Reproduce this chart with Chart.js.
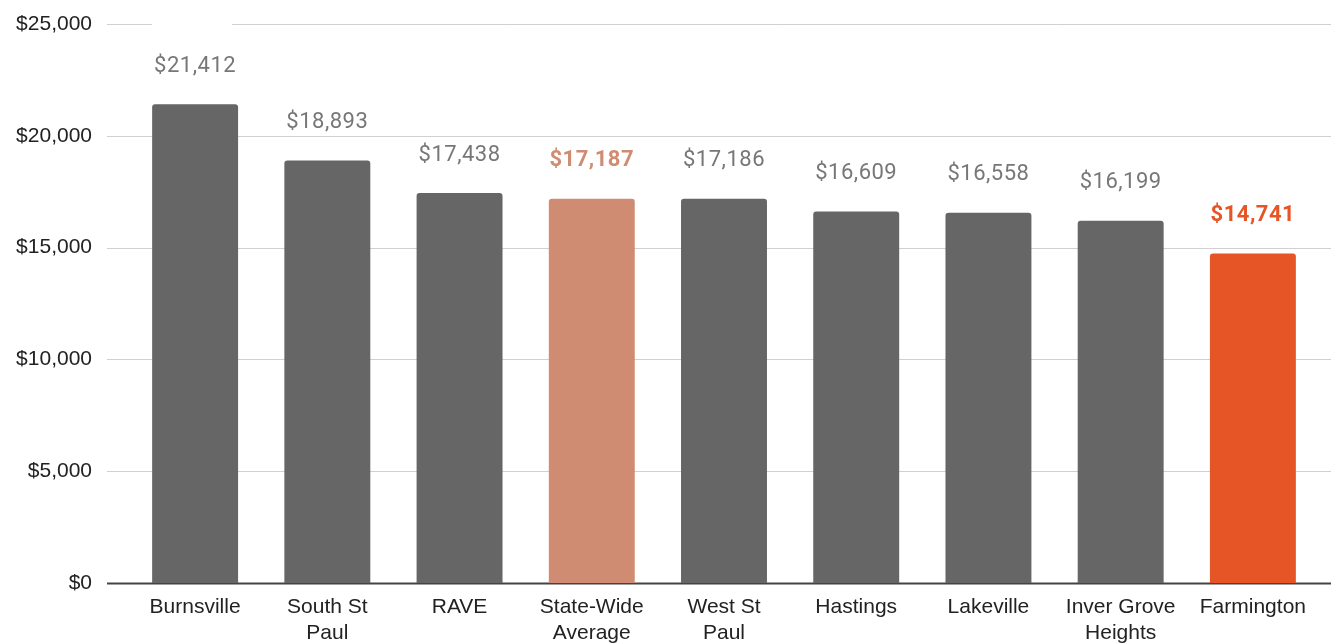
<!DOCTYPE html>
<html>
<head>
<meta charset="utf-8">
<script src="https://cdn.jsdelivr.net/npm/chart.js@4"></script>
<style>
  body { margin: 0; background: #fff; }
  #barChart { display: block; }
</style>
</head>
<body>
<canvas id="barChart" width="1331" height="643"></canvas>
<script>
// districts, per pupil spending
const districts = [
  ["Burnsville"], ["South St", "Paul"], ["RAVE"], ["State-Wide", "Average"],
  ["West St", "Paul"], ["Hastings"], ["Lakeville"], ["Inver Grove", "Heights"], ["Farmington"]
];
const spending = [21412, 18893, 17438, 17187, 17186, 16609, 16558, 16199, 14741];
const yTicks = [0, 5000, 10000, 15000, 20000, 25000];

const barColors = ["#666666", "#666666", "#666666", "#d08c72", "#666666", "#666666", "#666666", "#666666", "#e55525"];
const labelColors = ["#777777", "#777777", "#777777", "#d08c72", "#777777", "#777777", "#777777", "#777777", "#e55525"];
const boldLabel = [false, false, false, true, false, false, false, false, true];

function money(v) {
  return "$" + v.toLocaleString("en-US");
}

// gridlines run wider than the bar area, so draw them by hand
const gridPlugin = {
  id: "gridPlugin",
  beforeDatasetsDraw(chart) {
    const ctx = chart.ctx;
    const y = chart.scales.y;
    ctx.save();
    yTicks.forEach((t) => {
      const py = Math.round(y.getPixelForValue(t)) + 0.5;
      ctx.beginPath();
      if (t === 0) {
        ctx.strokeStyle = "#444";
        ctx.lineWidth = 2;
      } else {
        ctx.strokeStyle = "#d0d0d0";
        ctx.lineWidth = 1;
      }
      if (t === 25000) {
        // gap in the top line like the original
        ctx.moveTo(107, py); ctx.lineTo(152, py);
        ctx.moveTo(232, py); ctx.lineTo(1331, py);
      } else {
        ctx.moveTo(107, py); ctx.lineTo(1331, py);
      }
      ctx.stroke();
    });
    ctx.restore();
  }
};

const valueLabels = {
  id: "valueLabels",
  afterDatasetsDraw(chart) {
    const ctx = chart.ctx;
    const meta = chart.getDatasetMeta(0);
    ctx.save();
    ctx.textAlign = "center";
    ctx.textBaseline = "bottom";
    if ("letterSpacing" in ctx) ctx.letterSpacing = "0.5px";
    meta.data.forEach((bar, i) => {
      ctx.font = (boldLabel[i] ? "bold " : "") + "22px Roboto";
      ctx.fillStyle = labelColors[i];
      ctx.fillText(money(spending[i]), bar.x, bar.y - 27);
    });
    ctx.restore();
  }
};

const ctx = document.getElementById("barChart").getContext("2d");
new Chart(ctx, {
  type: "bar",
  data: {
    labels: districts,
    datasets: [{
      data: spending,
      backgroundColor: barColors,
      borderRadius: { topLeft: 3, topRight: 3 },
      borderSkipped: "bottom",
      categoryPercentage: 1,
      barPercentage: 0.65
    }]
  },
  options: {
    responsive: false,
    animation: false,
    layout: { padding: { top: 24, right: 12, left: 0, bottom: 0 } },
    plugins: {
      legend: { display: false },
      tooltip: { enabled: false }
    },
    scales: {
      y: {
        min: 0,
        max: 25000,
        afterFit(scale) {
          scale.width = 129;
          scale.paddingTop = 0;
          scale.paddingBottom = 0;
        },
        afterBuildTicks(scale) { scale.ticks = yTicks.map((v) => ({ value: v })); },
        grid: { display: false, drawTicks: false },
        border: { display: false },
        ticks: {
          padding: 37,
          color: "#222",
          font: { family: "Liberation Sans", size: 21 },
          callback: (v) => money(v)
        }
      },
      x: {
        afterFit(scale) {
          scale.height = 60;
          scale.paddingLeft = 0;
          scale.paddingRight = 0;
        },
        grid: { display: false, drawTicks: false },
        border: { display: false },
        ticks: {
          padding: 11,
          color: "#222",
          maxRotation: 0,
          autoSkip: false,
          font: { family: "Liberation Sans", size: 21, lineHeight: 1.24 }
        }
      }
    }
  },
  plugins: [gridPlugin, valueLabels]
});
</script>
</body>
</html>
